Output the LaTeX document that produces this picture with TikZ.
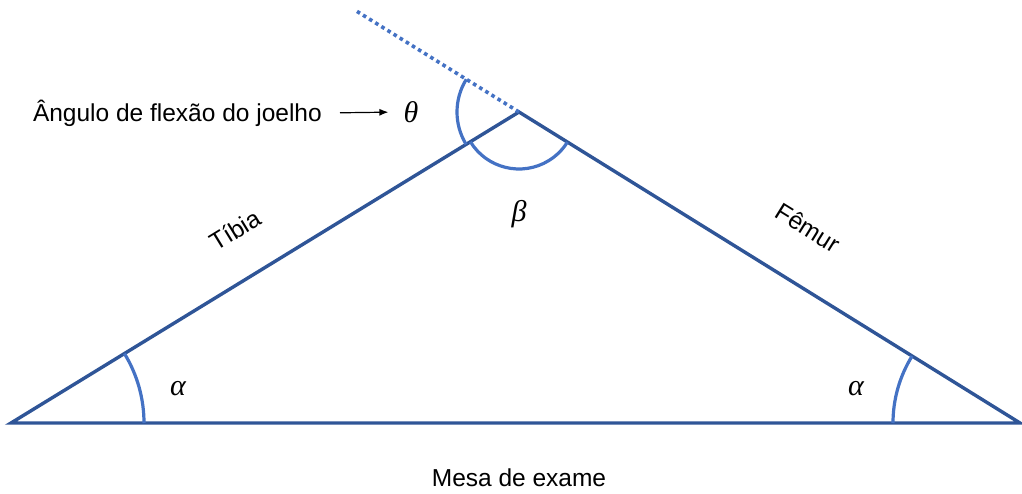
\documentclass[tikz,border=0pt]{standalone}
\usepackage{amsmath}
\usepackage{fontspec}
\setmainfont{Liberation Sans}
\newfontfamily\gregofonte{Liberation Serif}
\usepackage{tikz}
\usetikzlibrary{positioning, angles, arrows.meta}

\definecolor{ladoazul}{HTML}{2F5597}
\definecolor{arcoazul}{HTML}{4472C4}

\begin{document}
\begin{tikzpicture}[x=1pt, y=1pt,
    lado/.style={draw=ladoazul, line width=3.4pt},
    arco/.style={draw=arcoazul, line width=3.2pt},
    rotulo/.style={font=\fontsize{24.5}{29}\selectfont, inner sep=2pt},
    grego/.style={font=\gregofonte\itshape\fontsize{30}{34}\selectfont, inner sep=2pt}]
\useasboundingbox (0,0) rectangle (1022,493);

\coordinate (L) at (11,70);
\coordinate (R) at (1020,70);
\coordinate (A) at (519,381);
\coordinate (D) at (357,481.6);

\draw[lado, line join=miter] (L) -- (A) -- (R) -- cycle;
\draw[draw=arcoazul, line width=3.6pt, dash pattern=on 3.6pt off 3.6pt] (A) -- (D);

\pic[arco, angle radius=133] {angle=R--L--A};
\pic[arco, angle radius=127] {angle=A--R--L};
\pic[arco, angle radius=57] {angle=L--A--R};
\pic[arco, angle radius=62] {angle=D--A--L};

\node[grego] (alfaesq) at (178,104) {α};
\node[grego] (alfadir) at (856,104) {α};
\node[grego] (beta) at (519,279) {β};
\node[grego] (theta) at (411,381) {θ};

\node[rotulo, rotate=31.5] (tibia) at (235,263) {Tíbia};
\node[rotulo, rotate=-31.8] (femur) at (808,265) {Fêmur};
\node[rotulo] (mesa) at (519,15) {Mesa de exame};
\node[rotulo, anchor=east] (joelho) at (324,380) {Ângulo de flexão do joelho};

\draw[-{Latex[length=9pt, width=7pt]}, line width=1.2pt, shorten <=16pt, shorten >=13pt] (joelho.east) -- (theta.west);
\end{tikzpicture}
\end{document}
